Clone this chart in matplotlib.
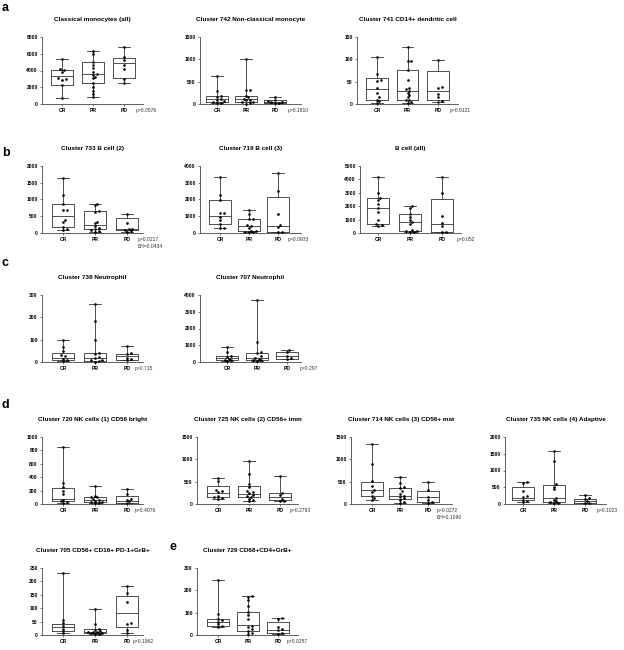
import matplotlib
matplotlib.use('Agg')
import matplotlib.pyplot as plt
import numpy as np

plt.rcParams['font.family'] = ['Liberation Sans', 'DejaVu Sans']

groups = ['CR', 'PR', 'PD']

titles = [
    'Classical monocytes (all)', 'Cluster 742 Non-classical monocyte', 'Cluster 741 CD14+ dendritic cell',
    'Cluster 733 B cell (2)', 'Cluster 719 B cell (3)', 'B cell (all)',
    'Cluster 738 Neutrophil', 'Cluster 707 Neutrophil',
    'Cluster 720 NK cells (1) CD56 bright', 'Cluster 725 NK cells (2) CD56+ imm',
    'Cluster 714 NK cells (3) CD56+ mat', 'Cluster 735 NK cells (4) Adaptive',
    'Cluster 705 CD56+ CD16+ PD-1+GrB+', 'Cluster 729 CD68+CD4+GrB+',
]
pvals = ['p=0.0576', 'p=0.1610', 'p=0.9121',
         'p=0.0217\nBH=0.0434', 'p=0.0933', 'p=0.052',
         'p=0.715', 'p=0.297',
         'p=0.4076', 'p=0.2793', 'p=0.0272\nBH=0.1090', 'p=0.1023',
         'p=0.1962', 'p=0.0257']
ytop = [8000, 1500, 150, 2000, 4000, 5000, 300, 4000, 1000, 1500, 1500, 2000, 250, 300]
ystep = [2000, 500, 50, 500, 1000, 1000, 100, 1000, 200, 500, 500, 500, 50, 100]

# box stats per group: [min, q1, median, q3, max]
box_a1 = [[760, 2270, 3390, 4100, 5400], [880, 2550, 3620, 5060, 6300], [2470, 3150, 4900, 5540, 6770]]
pts_a1 = [[5400, 4150, 4050, 3850, 3050, 2950, 2900, 2270, 760],
          [6300, 5950, 5060, 4700, 4300, 3800, 3550, 3450, 3250, 3050, 2550, 2000, 1600, 1250, 880],
          [6770, 5600, 5300, 4600, 4150, 2950, 2470]]
box_a2 = [[20, 50, 110, 170, 620], [10, 37, 112, 187, 1000], [20, 30, 50, 80, 150]]
pts_a2 = [[620, 283, 170, 150, 110, 90, 60, 50, 30, 20],
          [1000, 320, 318, 187, 150, 120, 100, 80, 50, 37, 20, 10],
          [150, 90, 60, 50, 40, 30, 20]]
box_a3 = [[2, 8, 33, 58, 105], [3, 10, 30, 77, 128], [5, 8, 30, 75, 99]]
pts_a3 = [[105, 67, 54, 51, 36, 25, 15, 10, 6, 2],
          [128, 97, 96, 77, 53, 36, 33, 30, 25, 20, 15, 10, 8, 5, 3],
          [99, 38, 36, 22, 15, 7, 5]]
box_b1 = [[100, 175, 520, 860, 1650], [40, 117, 245, 660, 880], [30, 80, 127, 440, 556]]
pts_b1 = [[1650, 1130, 860, 700, 680, 390, 340, 175, 115, 100],
          [880, 830, 660, 630, 340, 290, 195, 145, 117, 80, 60, 40],
          [556, 310, 127, 117, 80, 50, 30]]
box_b2 = [[273, 527, 1034, 1950, 3320], [30, 100, 430, 858, 1360], [30, 40, 410, 2130, 3610]]
pts_b2 = [[3320, 2240, 1950, 1210, 1200, 975, 780, 527, 290, 273],
          [1360, 1110, 860, 840, 470, 390, 290, 135, 100, 60, 40, 30],
          [3610, 2480, 1150, 470, 350, 40, 30]]
box_b3 = [[537, 683, 1830, 2630, 4200], [80, 170, 850, 1390, 2050], [50, 100, 660, 2540, 4200]]
pts_b3 = [[4200, 2980, 2630, 2490, 2200, 1830, 1585, 975, 683, 585, 537],
          [2050, 1900, 1390, 1170, 975, 850, 683, 244, 170, 120, 100, 80],
          [4200, 2980, 1290, 780, 490, 100, 50]]
box_c1 = [[4, 7, 19, 41, 98], [2, 4, 20, 41, 260], [7, 10, 25, 38, 73]]
pts_c1 = [[98, 66, 51, 32, 25, 15, 7, 4],
          [260, 183, 100, 41, 34, 22, 19, 10, 7, 4, 2],
          [73, 41, 34, 19, 13, 7]]
box_c2 = [[40, 98, 254, 332, 880], [60, 100, 254, 527, 3700], [176, 176, 332, 605, 690]]
pts_c2 = [[880, 585, 332, 300, 195, 137, 98, 40],
          [3700, 1190, 624, 566, 332, 254, 195, 137, 98, 60],
          [690, 585, 330, 254, 176]]
box_d1 = [[15, 39, 79, 236, 852], [10, 25, 64, 98, 276], [15, 15, 39, 123, 222]]
pts_d1 = [[852, 320, 260, 187, 148, 64, 40, 25, 15],
          [276, 123, 110, 98, 80, 64, 50, 35, 25, 15, 10],
          [222, 153, 74, 64, 39, 15]]
box_d2 = [[120, 148, 244, 414, 590], [59, 148, 221, 414, 967], [59, 81, 148, 244, 635]]
pts_d2 = [[590, 525, 303, 280, 258, 185, 155, 133, 120],
          [967, 665, 450, 390, 296, 266, 244, 207, 185, 155, 118, 81, 59],
          [635, 244, 207, 111, 74, 59]]
box_d3 = [[81, 170, 318, 502, 1352], [20, 118, 185, 355, 613], [20, 37, 155, 280, 502]]
pts_d3 = [[1352, 894, 524, 414, 318, 266, 170, 133, 81],
          [613, 465, 377, 355, 280, 229, 185, 155, 130, 96, 37, 20],
          [502, 318, 155, 96, 37, 20]]
box_d4 = [[50, 108, 177, 502, 660], [20, 49, 177, 562, 1596], [20, 30, 79, 158, 276]]
pts_d4 = [[660, 640, 374, 246, 207, 128, 79, 50],
          [1596, 1290, 590, 522, 443, 177, 128, 79, 49, 30, 20],
          [276, 177, 158, 79, 30, 20]]
box_e1 = [[6, 15, 28, 40, 232], [2, 6, 11, 22, 98], [6, 30, 82, 146, 182]]
pts_e1 = [[232, 55, 43, 33, 24, 15, 6],
          [98, 40, 22, 18, 15, 12, 11, 10, 8, 6, 4, 2],
          [182, 155, 122, 45, 40, 18, 6]]
box_e2 = [[34, 40, 59, 73, 245], [0, 19, 47, 105, 176], [4, 10, 22, 59, 76]]
pts_e2 = [[245, 95, 73, 66, 59, 48, 40, 34],
          [176, 170, 155, 130, 105, 88, 73, 40, 34, 25, 19, 10, 4],
          [76, 70, 34, 28, 22, 10, 4]]

boxes = [box_a1, box_a2, box_a3, box_b1, box_b2, box_b3, box_c1, box_c2,
         box_d1, box_d2, box_d3, box_d4, box_e1, box_e2]
points = [pts_a1, pts_a2, pts_a3, pts_b1, pts_b2, pts_b3, pts_c1, pts_c2,
          pts_d1, pts_d2, pts_d3, pts_d4, pts_e1, pts_e2]

# ---------------- layout (pixels) ----------------
W, H = 624, 650
ax_w, ax_h = 101, 67
# (axes left px, axes bottom px from top)
panel_pos = [(42, 104), (200, 104), (357, 104),
             (42, 233), (200, 233), (360, 233),
             (42, 362), (200, 362),
             (42, 504), (197, 504), (351, 504), (505, 504),
             (42, 635), (197, 635)]
first_px = [20, 17, 20, 21, 20, 18, 21, 27, 21, 21, 21, 18, 21, 21]
space_px = [31, 29, 30.5, 32, 29, 32, 32, 30, 32, 31, 28, 31, 32, 30]
p_x = [94, 88, 93, 96, 88, 97, 93, 100, 93, 93, 86, 92, 91, 90]
letters = [('a', 2, 8), ('b', 2, 153), ('c', 2, 263), ('d', 2, 405), ('e', 170, 547)]


def swarm(vals, top, xscale, d=2.4):
    ys = np.asarray(vals, float) / top * ax_h
    order = np.argsort(ys)
    xs = np.zeros(len(vals))
    placed = []
    for i in order:
        for k in [0, 1, -1, 2, -2, 3, -3, 4, -4, 5, -5]:
            x = k * d * 0.75
            ok = all((x - px) ** 2 + (ys[i] - py) ** 2 >= d * d for px, py in placed)
            if ok:
                break
        xs[i] = x
        placed.append((x, ys[i]))
    return xs / xscale


fig = plt.figure(figsize=(W / 100, H / 100), dpi=100)

for idx in range(len(titles)):
    lx, by = panel_pos[idx]
    ax = fig.add_axes([lx / W, 1 - by / H, ax_w / W, ax_h / H])
    top = ytop[idx]
    xscale = space_px[idx]
    xmin = -first_px[idx] / xscale
    xmax = xmin + ax_w / xscale
    stats = []
    for g in range(3):
        mn, q1, md, q3, mx = boxes[idx][g]
        stats.append({'whislo': mn, 'q1': q1, 'med': md, 'q3': q3, 'whishi': mx, 'fliers': []})
    lw = 0.6
    bw = 21.5 / xscale
    ax.bxp(stats, positions=[0, 1, 2], widths=bw, showfliers=False, capwidths=bw * 0.53,
           boxprops=dict(color='#333333', lw=lw), medianprops=dict(color='#333333', lw=lw),
           whiskerprops=dict(color='#333333', lw=lw), capprops=dict(color='#333333', lw=lw))
    for g in range(3):
        vals = points[idx][g]
        xs = swarm(vals, top, xscale) + g
        ax.plot(xs, vals, 'o', ms=1.9, color='black', mec='none', clip_on=False, zorder=3)
    ax.set_xlim(xmin, xmax)
    ax.set_ylim(0, top)
    ax.set_yticks(np.arange(0, top + 1, ystep[idx]))
    ax.set_xticks([0, 1, 2])
    ax.set_xticklabels(groups)
    for s in ['top', 'right']:
        ax.spines[s].set_visible(False)
    for s in ['left', 'bottom']:
        ax.spines[s].set_linewidth(0.6)
        ax.spines[s].set_color('#444444')
    ax.tick_params(axis='both', labelsize=3.6, width=0.5, length=1.5, pad=1.5, color='#444444')
    for lab in ax.get_xticklabels() + ax.get_yticklabels():
        lab.set_fontweight('bold')
    ax.annotate(titles[idx], xy=(0.5, 1), xycoords='axes fraction', xytext=(0, 12.3),
                textcoords='offset points', ha='center', va='center', fontsize=4.6, fontweight='bold')
    ax.text(p_x[idx] / ax_w, -4 / ax_h, pvals[idx], transform=ax.transAxes, ha='left', va='top',
            fontsize=3.6, color='#333333', linespacing=1.6)

for lt, x, y in letters:
    fig.text(x / W, 1 - y / H, lt, ha='left', va='center', fontsize=9, fontweight='bold')

fig.savefig('out.png', dpi=100)
